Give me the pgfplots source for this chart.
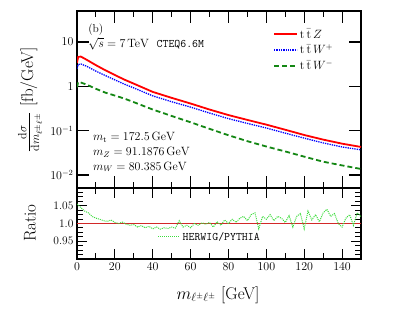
\documentclass[border=0pt]{standalone}
\usepackage{pgfplots}
\pgfplotsset{compat=1.18}
\definecolor{cred}{RGB}{255,0,0}
\definecolor{cblue}{RGB}{0,0,255}
\definecolor{cgreen}{RGB}{20,135,20}
\definecolor{rred}{RGB}{210,40,40}
\definecolor{rgreen}{RGB}{60,220,60}
\pgfplotstableread{
x y
0 3.4
0.6 4.6
2 4.7
5 4.0
10 3.0
15 2.3
20 1.8
25 1.42
30 1.15
40 0.75
50 0.55
60 0.41
70 0.30
80 0.225
90 0.175
100 0.137
110 0.105
120 0.080
130 0.063
140 0.051
150 0.043
}\ttZ
\pgfplotstableread{
x y
0 2.5
0.6 3.1
2 3.2
5 2.85
10 2.2
15 1.75
20 1.40
25 1.12
30 0.92
40 0.61
50 0.45
60 0.34
70 0.25
80 0.187
90 0.146
100 0.115
110 0.088
120 0.068
130 0.053
140 0.043
150 0.037
}\ttWp
\pgfplotstableread{
x y
0 0.95
0.6 1.25
2 1.22
5 1.10
10 0.88
15 0.72
20 0.62
25 0.53
30 0.44
40 0.30
50 0.215
60 0.155
70 0.110
80 0.079
90 0.058
100 0.044
110 0.034
120 0.026
130 0.020
140 0.0165
150 0.0137
}\ttWm
\pgfplotstableread{
x y
0 1.055
2 1.045
4 1.035
6 1.03
8 1.02
10 1.015
12 1.012
14 1.008
16 1.006
18 1.01
20 1.003
22 1.0
24 1.004
26 0.998
28 0.995
30 0.997
32 0.99
34 0.994
36 0.988
38 0.992
40 0.985
42 0.99
44 0.984
46 0.988
48 0.986
50 0.99
52 0.987
54 1.008
56 0.99
58 0.995
60 0.988
62 1.0
64 0.995
66 1.002
68 0.998
70 1.003
72 0.99
74 1.005
76 0.995
78 1.01
80 1.0
82 1.012
84 1.003
86 1.015
88 1.02
90 1.008
92 1.025
94 1.03
96 0.985
98 1.02
100 1.012
102 1.025
104 1.008
106 1.02
108 1.015
110 1.003
112 1.022
114 0.99
116 1.02
118 1.028
120 0.985
122 1.035
124 1.01
126 1.025
128 1.005
130 1.03
132 1.04
134 1.02
136 1.028
138 1.0
140 0.99
142 1.015
144 1.025
146 0.995
148 1.03
150 1.02
}\ratio
\begin{document}
\begin{tikzpicture}
\useasboundingbox (0,0) rectangle (407pt,-308pt);
\pgfplotsset{
  common/.style={
    scale only axis, width=284pt,
    xmin=0, xmax=150,
    xtick={0,20,...,140}, minor x tick num=1,
    tick align=inside, axis line style={line width=1.2pt},
    every tick/.style={black, line width=1.1pt},
    tick label style={font=\fontsize{11.5}{12}\selectfont},
    xtick pos=both, ytick pos=both,
  }
}
\begin{axis}[common,
  at={(77pt,-11pt)}, anchor=north west, height=177pt,
  ymode=log, ymin=0.0051, ymax=50,
  ytick={0.01,0.1,1,10}, yticklabels={$10^{-2}$,$10^{-1}$,$1$,$10$},
  yminorticks=false,
  major tick length=12pt, minor tick length=6pt,
  xticklabels={},
  legend style={at={(rel axis cs:0.69,0.91)}, anchor=north west, draw=none, fill=none,
    font=\fontsize{11.5}{12}\selectfont, row sep=1pt, inner sep=0pt},
  legend cell align=left,
  legend image code/.code={\draw[#1] (0pt,0pt) -- (23pt,0pt);},
]
\addplot[color=cred, line width=1.8pt, solid] table[x=x,y=y] {\ttZ};
\addlegendentry{$\mathrm{t}\,\bar{\mathrm{t}}\,Z$}
\addplot[color=cblue, line width=1.3pt, densely dotted] table[x=x,y=y] {\ttWp};
\addlegendentry{$\mathrm{t}\,\bar{\mathrm{t}}\,W^{+}$}
\addplot[color=cgreen, line width=1.8pt, dash pattern=on 5pt off 3pt] table[x=x,y=y] {\ttWm};
\addlegendentry{$\mathrm{t}\,\bar{\mathrm{t}}\,W^{-}$}
\node[anchor=west, font=\fontsize{11.5}{12}\selectfont, inner sep=0pt] at (rel axis cs:0.039,0.893) {(b)};
\node[anchor=west, font=\fontsize{11.5}{12}\selectfont, inner sep=0pt] at (rel axis cs:0.039,0.815) {$\sqrt{s}=7\,\mathrm{TeV}$\ \ \texttt{CTEQ6.6M}};
\node[anchor=west, font=\fontsize{11.5}{12}\selectfont, inner sep=0pt] at (rel axis cs:0.056,0.288) {$m_{\mathrm{t}}=172.5\,\mathrm{GeV}$};
\node[anchor=west, font=\fontsize{11.5}{12}\selectfont, inner sep=0pt] at (rel axis cs:0.056,0.203) {$m_{Z}=91.1876\,\mathrm{GeV}$};
\node[anchor=west, font=\fontsize{11.5}{12}\selectfont, inner sep=0pt] at (rel axis cs:0.056,0.119) {$m_{W}=80.385\,\mathrm{GeV}$};
\end{axis}
\begin{axis}[common,
  at={(77pt,-188pt)}, anchor=north west, height=71pt,
  ymin=0.9, ymax=1.1,
  ytick={0.9,0.95,1,1.05,1.1}, yticklabels={,0.95,1.0,1.05,},
  minor y tick num=3,
  major tick length=10pt, minor tick length=6pt,
  legend style={at={(rel axis cs:0.28,0.31)}, anchor=west, draw=none, fill=none,
    font=\fontsize{11.5}{12}\ttfamily, inner sep=1pt},
  legend image code/.code={\draw[#1] (0pt,0pt) -- (22pt,0pt);},
]
\addplot[color=rred, line width=1.4pt, forget plot] coordinates {(0,1) (150,1)};
\addplot[color=rgreen, line width=1pt, densely dotted] table[x=x,y=y] {\ratio};
\addlegendentry{HERWIG/PYTHIA}
\end{axis}
\node[rotate=90, font=\fontsize{17}{20}\selectfont] at (30pt,-100pt) {$\frac{\mathrm{d}\sigma}{\mathrm{d}m_{\ell^{\pm}\ell^{\pm}}}$\ [fb/GeV]};
\node[rotate=90, font=\fontsize{17}{20}\selectfont] at (30pt,-223pt) {Ratio};
\node[font=\fontsize{17}{20}\selectfont] at (218pt,-295pt) {$m_{\ell^{\pm}\ell^{\pm}}$\ [GeV]};
\end{tikzpicture}
\end{document}
